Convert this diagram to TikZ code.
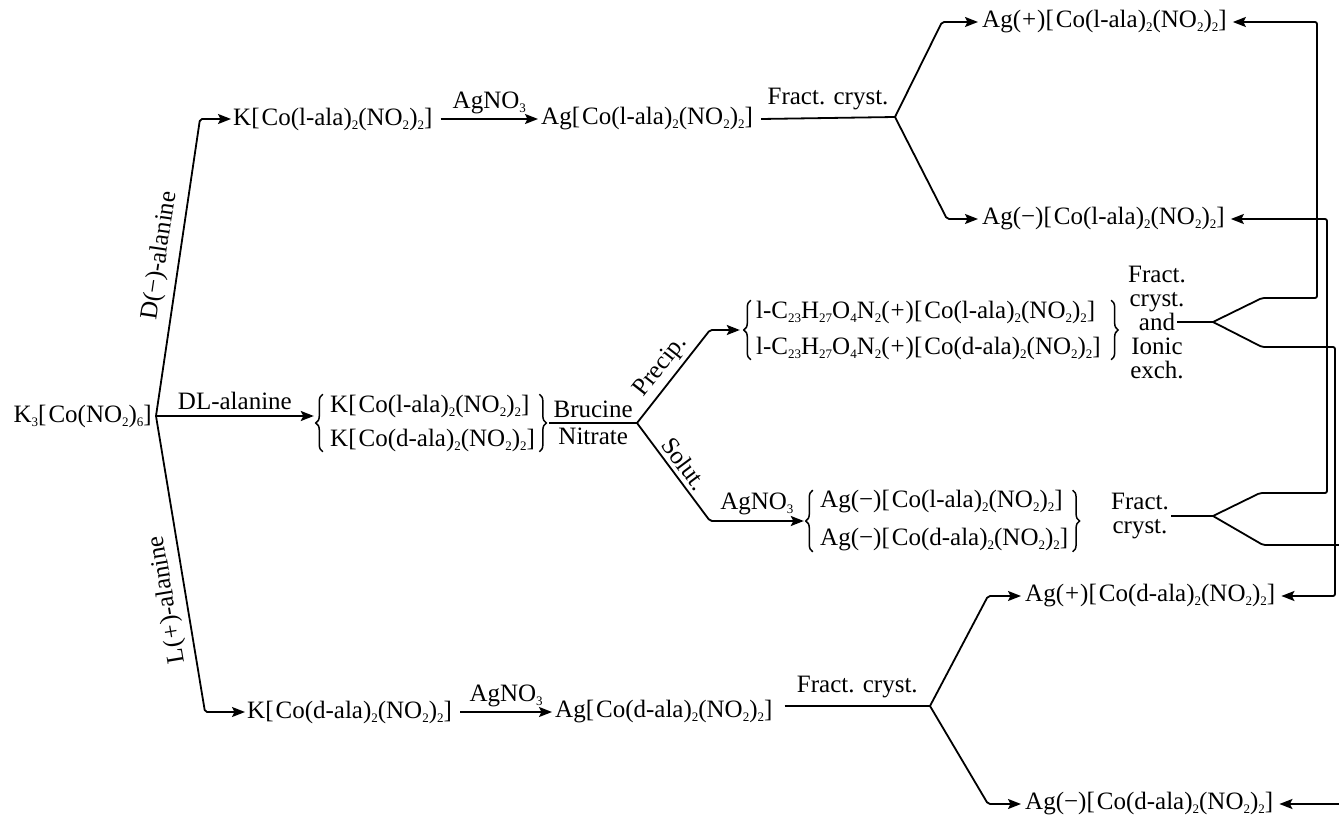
\documentclass[tikz,border=0pt]{standalone}
\usepackage{fontspec}
\setmainfont{Liberation Serif}
\usetikzlibrary{arrows.meta,calc,fit,decorations.pathreplacing}
\newcommand\su[1]{\raisebox{-0.35ex}{\fontsize{13}{13}\selectfont #1}}
\newcommand\cplx[1]{[\kern2pt Co(#1-ala)\su{2}(NO\su{2})\su{2}]}
\newcommand\pl{(\kern1pt+\kern1pt)}
\newcommand\mi{(−)}
\tikzset{
  every node/.style={inner sep=0pt, font=\fontsize{25}{24}\selectfont},
  chem/.style={anchor=west},
  grp/.style={draw=none, inner sep=0pt},
  brc/.style={decorate, decoration={brace, amplitude=7pt}, line width=1.5pt},
  conn/.style={line width=1.8pt, line join=round, rounded corners=2pt},
  arr/.style={conn, -{Stealth[length=13pt,width=10pt,inset=2.5pt]}},
}
\begin{document}
\begin{tikzpicture}[x=1pt,y=-1pt]
\useasboundingbox (0,0) rectangle (1339,818);
\clip (0,0) rectangle (1339,818);
% ---------- nodes ----------
\node[anchor=east] (k3) at (152,416) {K\su{3}[\kern2pt Co(NO\su{2})\su{6}]};
\coordinate (br) at (156,416);
% top row
\coordinate (bendD) at (200,119);
\node[chem] (kl) at (233,119) {K\cplx{l}};
\node[chem] (agl) at (541,119) {Ag\cplx{l}};
\coordinate (forkT) at (895,117);
\coordinate (cT1) at (942,22);
\coordinate (cT2) at (947,219);
\node[chem] (agpl) at (982,22) {Ag\pl\cplx{l}};
\node[chem] (agml) at (982,219) {Ag\mi\cplx{l}};
% middle: K group
\node[chem] (kl2) at (330,406) {K\cplx{l}};
\node[chem] (kd2) at (330,440) {K\cplx{d}};
\node[grp, fit=(kl2)(kd2)] (mixK) {};
% brucine salts group
\node[chem] (bl) at (756,312) {l-C\su{23}H\su{27}O\su{4}N\su{2}\pl\cplx{l}};
\node[chem] (bd) at (756,348) {l-C\su{23}H\su{27}O\su{4}N\su{2}\pl\cplx{d}};
\node[grp, fit=(bl)(bd)] (mixB) {};
% silver salts group
\node[chem] (al) at (820,502) {Ag\mi\cplx{l}};
\node[chem] (ad) at (820,540) {Ag\mi\cplx{d}};
\node[grp, fit=(al)(ad)] (mixA) {};
\coordinate (fx) at (637,0);
\coordinate (px) at (710,0);
\coordinate (forkM) at (mixK.east -| fx);
\coordinate (pbend) at (mixB.west -| px);
\coordinate (sbend) at (mixA.west -| px);
\node[align=center] (fci) at (1157,322) {Fract.\\cryst.\\and\\Ionic\\exch.};
\coordinate (andend) at ($(fci.center)+(20,0)$);
\coordinate (forkU) at (1213,322);
\node[align=center] (ffc) at (1140,516) {Fract.\\cryst.};
\coordinate (forkL) at (1213,516);
% bottom row
\coordinate (bendL) at (205,712);
\node[chem] (kd) at (247,712) {K\cplx{d}};
\node[chem] (agd) at (555,712) {Ag\cplx{d}};
\coordinate (forkB) at (930,706);
\coordinate (cB1) at (988,596);
\coordinate (cB2) at (988,804);
\node[chem] (agpd) at (1025,596) {Ag\pl\cplx{d}};
\node[chem] (agmd) at (1025,804) {Ag\mi\cplx{d}};
% ---------- braces ----------
\draw[brc] ([xshift=-7pt]mixK.south west) -- ([xshift=-7pt]mixK.north west);
\draw[brc] ([xshift=4pt]mixK.north east) -- ([xshift=4pt]mixK.south east);
\draw[brc] ([xshift=-5pt]mixB.south west) -- ([xshift=-5pt]mixB.north west);
\draw[brc] ([xshift=10pt]mixB.north east) -- ([xshift=10pt]mixB.south east);
\draw[brc] ([xshift=-7pt]mixA.south west) -- ([xshift=-7pt]mixA.north west);
\draw[brc] ([xshift=4pt]mixA.north east) -- ([xshift=4pt]mixA.south east);
\coordinate (tipK) at ([xshift=-16pt]mixK.west);
\coordinate (tipB) at ([xshift=-16pt]mixB.west);
\coordinate (tipA) at ([xshift=-16pt]mixA.west);
% ---------- connectors ----------
\draw[arr] (br) -- node[sloped, above=7pt, pos=0.53] {D\mi-alanine} (bendD) -- ([xshift=-2pt]kl.west);
\draw[arr] (br) -- (bendL) -- ([xshift=-2pt]kd.west);
\path (bendL) -- node[sloped, allow upside down, above=7pt, pos=0.39] {L\pl-alanine} (br);
\draw[arr] (br) -- node[above=5pt] {DL-alanine} (br -| tipK);
% top row
\draw[arr] ([xshift=8pt]kl.east) -- node[above=4pt] {AgNO\su{3}} ([xshift=-3pt]agl.west);
\draw[conn] ([xshift=8pt]agl.east) -- node[above=7pt] {Fract. cryst.} (forkT);
\draw[arr] (forkT) -- (cT1) -- ([xshift=-4pt]agpl.west);
\draw[arr] (forkT) -- (cT2) -- ([xshift=-4pt]agml.west);
% middle
\draw[conn] ([xshift=14pt]mixK.east) -- node[above=4pt] {Brucine} node[below=4pt] {Nitrate} (forkM);
\draw[arr] (forkM) -- node[sloped, above=4pt] {Precip.} (pbend) -- (tipB);
\draw[arr] (forkM) -- node[sloped, above=4pt] {Solut.} (sbend) -- node[above=5pt] {AgNO\su{3}} (tipA);
% right forks
\draw[conn] (andend) -- (forkU);
\draw[conn] ([xshift=2pt]ffc.east) -- (forkL);
\draw[arr] (forkU) -- (1262,298) -- (1317,298) -- (1317,22) -- ([xshift=6pt]agpl.east);
\draw[arr] (forkU) -- (1262,347) -- (1335,347) -- (1335,596) -- ([xshift=6pt]agpd.east);
\draw[arr] (forkL) -- (1260,493) -- (1327,493) -- (1327,219) -- ([xshift=6pt]agml.east);
\draw[arr] (forkL) -- (1263,545) -- (1345,545) -- (1345,804) -- ([xshift=6pt]agmd.east);
% bottom row
\draw[arr] ([xshift=8pt]kd.east) -- node[above=4pt] {AgNO\su{3}} ([xshift=-3pt]agd.west);
\draw[conn] ([xshift=12pt,yshift=6pt]agd.east) -- node[above=7pt] {Fract. cryst.} (forkB);
\draw[arr] (forkB) -- (cB1) -- ([xshift=-4pt]agpd.west);
\draw[arr] (forkB) -- (cB2) -- ([xshift=-4pt]agmd.west);
\end{tikzpicture}
\end{document}
